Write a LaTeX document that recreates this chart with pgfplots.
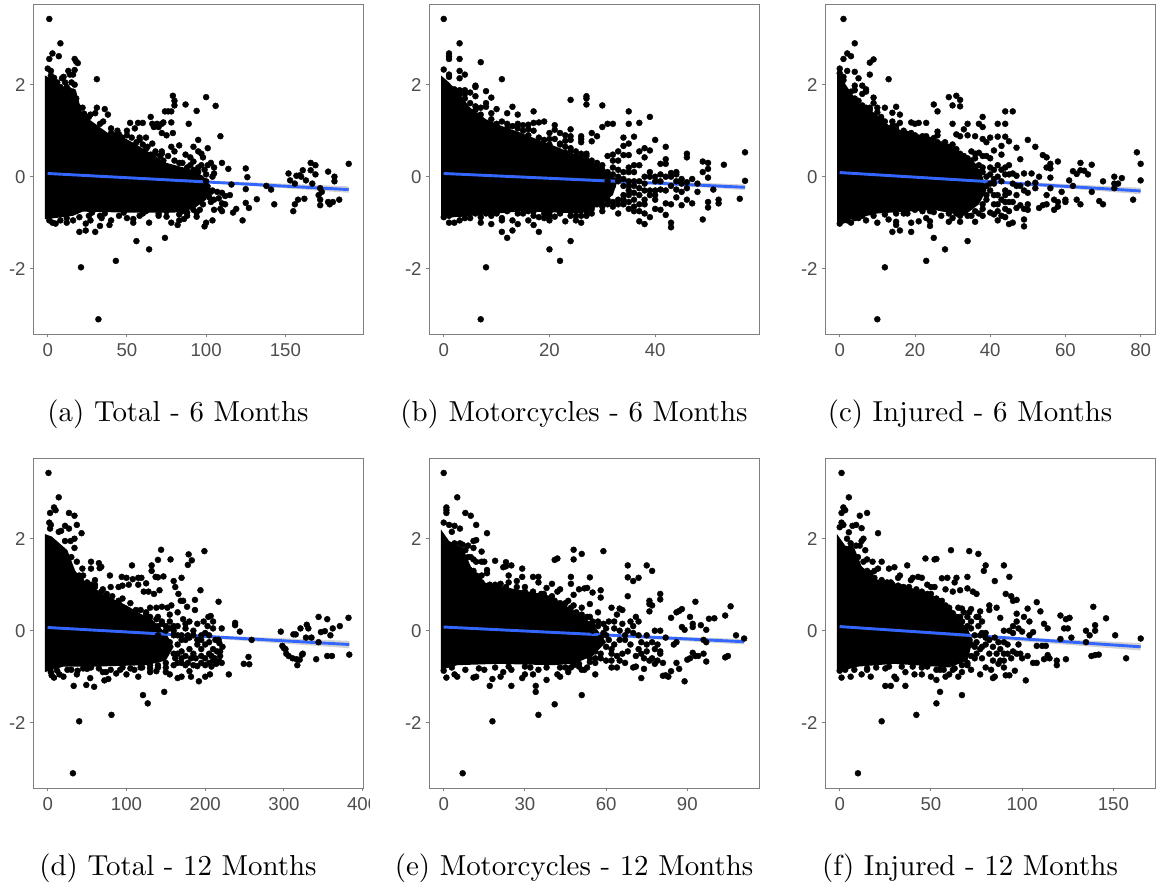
\documentclass[border=0pt]{standalone}
\usepackage{fontspec}
\newfontfamily\tickfont{Liberation Sans}
\usepackage{pgfplots}
\pgfplotsset{compat=1.18}
\definecolor{fitblue}{HTML}{3366FF}
\definecolor{ticktext}{HTML}{4D4D4D}
\definecolor{frame}{HTML}{7F7F7F}
\newcommand\capt[3]{\node[anchor=base,inner sep=0pt,text=black,scale=2.89] at (#1pt,#2pt) {\fontsize{10}{12}\selectfont #3};}
\pgfplotsset{
  panel/.style={
    scale only axis, width=330pt, height=329.3pt, anchor=south west,
    ymin=-3.42, ymax=3.74,
    axis line style={frame,line width=0.9pt},
    tick style={frame,line width=0.9pt},
    major tick length=3.2pt,
    tick align=outside, xtick pos=bottom, ytick pos=left,
    ytick={-2,0,2}, yticklabels={-2,0,2},
    tick label style={font=\tickfont\fontsize{18.6}{20}\selectfont,text=ticktext},
    xticklabel style={yshift=-2.5pt},
    yticklabel style={xshift=-1pt},
    axis on top=false,
  },
  dots/.style={only marks,mark=*,mark size=3pt,black,mark options={draw=black,fill=black}},
  blob/.style={fill=black,draw=none,mark=none,forget plot},
  ribbon/.style={fill=gray,fill opacity=0.35,draw=none,mark=none},
  fit/.style={fitblue,line width=2.9pt,mark=none},
}
\begin{document}
\begin{tikzpicture}[x=1pt,y=1pt]
\useasboundingbox (0,0) rectangle (1159,886);
% (a)
\begin{axis}[panel,at={(33.3pt,552pt)},xmin=-9.1,xmax=199.2,xtick={0,50,100,150},xticklabels={0,50,100,150}]
\addplot[blob] coordinates {(-1.8,-0.92) (-1.8,2.2) (4,2.1) (10,1.95) (14,1.95) (18,1.85) (22,1.35) (30,1.15) (38,0.95) (48,0.85) (56,0.7) (65,0.5) (75,0.3) (88,0.18) (98,0.02) (103,-0.2) (100,-0.5) (92,-0.7) (80,-0.78) (50,-0.78) (22,-0.76) (16,-0.85) (0,-0.92)} -- cycle;
\addplot[dots] coordinates {(1,3.43) (8,2.9) (3,2.68) (7,2.62) (1,2.56) (17,2.56) (18,2.5) (19,2.47) (0,2.35) (2,2.3) (13,2.3) (17,2.32) (16,2.22) (14,2.22) (10,2.17) (9,2.14) (31,2.12) (17,2) (12,1.95) (11,1.85) (16,1.85) (18,1.7) (20,1.5) (79,1.76) (80,1.65) (80,1.55) (87,1.57) (100,1.73) (106,1.54) (94,1.43) (31,1.5) (36,1.47) (30,1.38) (38,1.35) (27,1.35) (23,1.37) (22,1.3) (76,1.42) (78,1.42) (74,1.42) (65,1.3) (89,1.15) (78,1.18) (35,1.2) (57,1.17) (52,1.17) (60,1.17) (66,1.15) (69,1.15) (72,1.15) (73,1.18) (67,1.08) (70,1.08) (79,0.95) (72,0.95) (75,0.9) (109,0.88) (95,0.8) (55,1.05) (50,1.0) (45,0.92) (62,0.85) (58,0.8) (66,0.72) (78,0.65) (83,0.68) (92,0.65) (101,0.62) (80,0.55) (95,0.55) (97,0.5) (87,0.48) (90,0.42) (98,0.42) (65,0.48) (71,0.45) (72,0.55) (92,0.33) (103,0.3) (110,0.3) (97,0.25) (101,0.25) (105,0.2) (95,0.1) (114,0.17) (125,0.18) (99,0.15) (105,0.07) (126,-0.01) (104,0.0) (116,-0.17) (125,-0.27) (132,-0.49) (125,-0.57) (127,-0.68) (143,-0.6) (138,-0.2) (141,-0.28) (115,-0.4) (112,-0.42) (110,-0.35) (107,-0.33) (103,-0.33) (108,-0.47) (105,-0.5) (103,-0.55) (110,-0.58) (112,-0.6) (109,-0.7) (105,-0.72) (110,-0.75) (119,-0.7) (117,-0.78) (123,-0.95) (104,-0.95) (100,-1.0) (99,-1.08) (96,-0.72) (94,-0.78) (94,-0.87) (88,-0.85) (83,-0.95) (82,-1.05) (86,-0.92) (78,-1.0) (75,-0.87) (74,-1.33) (64,-1.58) (56,-1.4) (43,-1.83) (21,-1.97) (32,-3.1) (20,-1.2) (24,-1.17) (30,-1.2) (33,-1.07) (39,-1.05) (24,-1.02) (27,-0.95) (34,-0.9) (40,-0.95) (50,-0.9) (54,-0.92) (54,-1.0) (64,-1.0) (60,-0.8) (70,-0.8) (5,-1.02) (3,-1.0) (12,-1.0) (16,-0.95) (1,-0.95) (152,0.07) (153,-0.08) (156,-0.15) (157,0.02) (159,0.03) (161,0.14) (160,0.0) (163,-0.08) (166,0.14) (166,0.3) (169,0.25) (169,0.05) (167,-0.15) (177,0.11) (181,0.0) (181,-0.1) (172,-0.25) (173,-0.33) (171,-0.4) (172,-0.5) (172,-0.62) (177,-0.55) (178,-0.6) (180,-0.55) (184,-0.5) (162,-0.48) (158,-0.5) (156,-0.6) (155,-0.75) (190,0.28) (25,1.2) (30,1.05) (42,0.9) (47,0.85) (56,0.75) (68,0.5) (73,0.35) (83,0.3) (92,0.15) (100,-0.25) (100,-0.4) (90,-0.6) (85,-0.75) (75,-0.75) (62,-0.75) (36,-0.8) (48,-0.78) (28,-0.78) (14,1.6) (8,1.95) (6,2.05) (40,0.95) (62,0.6) (88,0.2) (76,0.05) (85,0.1) (22,1.5) (26,1.3) (33,1.15) (40,1.05) (44,1.0) (50,0.9) (53,0.85) (58,0.85) (60,0.7) (63,0.65) (68,0.55) (72,0.5) (76,0.45) (80,0.35) (85,0.3) (90,0.25) (95,0.2) (100,0.05) (100,-0.1) (104,-0.3) (102,-0.45) (98,-0.6) (92,-0.72) (88,-0.78) (83,-0.82) (70,-0.85) (58,-0.85) (45,-0.85) (33,-0.85) (26,-0.85) (20,-0.88) (12,-0.9) (8,-0.95) (2,2.2) (4,2.15) (11,2.05) (15,2.05)};
\addplot[ribbon] coordinates {(0,0.09) (100,-0.08) (190,-0.21) (190,-0.35) (100,-0.13) (0,0.05)} -- cycle;
\addplot[fit] coordinates {(0,0.07) (190,-0.28)};
\end{axis}
% (b)
\begin{axis}[panel,at={(429.3pt,552pt)},xmin=-2.73,xmax=59.7,xtick={0,20,40},xticklabels={0,20,40}]
\addplot[blob] coordinates {(-0.5,-0.9) (-0.5,2.2) (1,2.05) (3,1.8) (5,1.5) (8,1.25) (11,1.1) (14,0.98) (18,0.8) (22,0.62) (26,0.42) (29,0.25) (31,0.05) (33,-0.05) (32,-0.4) (29,-0.65) (26,-0.8) (15,-0.75) (0,-0.9)} -- cycle;
\addplot[dots] coordinates {(0,3.43) (3,2.9) (1,2.68) (1,2.62) (1,2.56) (3,2.56) (7,2.49) (0,2.33) (3,2.3) (1,2.22) (4,2.22) (1,2.17) (3,2.14) (11,2.12) (6,1.98) (6,1.95) (3,1.88) (4,1.88) (5,1.83) (8,1.86) (3,1.8) (4,1.8) (2,1.8) (6,1.75) (9,1.72) (8,1.6) (8,1.52) (7,1.5) (6,1.53) (4,1.5) (10,1.47) (13,1.52) (12,1.38) (14,1.35) (17,1.42) (9,1.38) (5,1.35) (11,1.2) (12,1.15) (14,1.15) (15,1.12) (16,1.13) (17,1.17) (18,1.18) (19,1.2) (14,1.05) (16,1.03) (17,1.0) (21,1.12) (21,1.02) (20,0.95) (22,0.95) (23,0.9) (24,1.03) (24,0.88) (24,0.8) (23,0.78) (21,0.82) (20,0.82) (22,0.7) (25,0.55) (24,0.62) (23,0.52) (26,0.88) (26,0.82) (26,0.75) (28,0.95) (29,0.88) (28,0.77) (24,1.67) (27,1.75) (27,1.7) (27,1.57) (30,1.55) (35,1.42) (39,1.3) (30,1.08) (31,1.15) (32,1.15) (35,1.15) (37,1.17) (34,0.85) (36,0.87) (35,0.72) (34,0.67) (40,0.8) (42,0.65) (38,0.62) (39,0.57) (37,0.55) (38,0.42) (33,0.55) (32,0.48) (31,0.45) (34,0.47) (35,0.47) (46,0.5) (46,0.42) (42,0.38) (42,0.28) (41,0.28) (43,0.08) (44,0.1) (44,0.05) (49,0.33) (50,0.3) (50,0.17) (49,0.1) (50,-0.02) (53,0.26) (57,0.53) (57,-0.09) (56,-0.48) (52,-0.5) (52,-0.58) (50,-0.55) (50,-0.67) (49,-0.93) (47,-0.58) (46,-0.5) (45,-0.62) (43,-0.6) (43,-1) (43,-1.1) (42,-0.83) (42,-0.58) (41,-0.72) (40,-0.5) (40,-0.7) (39,-0.88) (38,-1.03) (37,-0.97) (37,-0.6) (36,-0.75) (38,-0.8) (38,-0.6) (39,-0.3) (39,-0.4) (38,-0.3) (37,-0.4) (36,-0.5) (35,-0.55) (34,-0.6) (34,-0.4) (33,-0.6) (33,-0.8) (32,-0.65) (31,-0.5) (30,-0.75) (30,-0.6) (47,-0.05) (45,-0.05) (46,-0.12) (46,-0.25) (45,-0.33) (44,-0.28) (48,-0.15) (48,-0.33) (51,-0.28) (40,0) (41,-0.28) (42,0) (38,0) (39,0) (35,0.1) (33,0.15) (34,0.1) (32,0.2) (31,0.1) (30,0.25) (29,0.3) (37,0.25) (36,0.25) (36,0.1) (43,0) (27,0.5) (27,0.45) (28,0.35) (26,0.4) (25,0.38) (26,-1) (25,-0.95) (27,-0.85) (28,-0.8) (24,-0.85) (23,-0.97) (21,-0.87) (20,-0.95) (20,-0.78) (19,-0.9) (18,-0.88) (18,-1.2) (17,-0.75) (17,-0.85) (17,-1.05) (16,-0.95) (14,-1.03) (13,-0.95) (13,-1.17) (12,-1.33) (11,-1.2) (11,-0.9) (11,-0.95) (9,-1.03) (9,-0.85) (7,-1) (7,-0.88) (5,-0.9) (4,-0.9) (3,-0.95) (2,-1.0) (1,-1.0) (0,-0.88) (20,-1.58) (24,-1.4) (22,-1.83) (8,-1.97) (7,-3.1) (29,0.1) (31,-0.1) (32,-0.2) (33,-0.1) (34,-0.2) (35,-0.3) (36,-0.1) (37,-0.1) (31,-0.3) (29,-0.6) (28,-0.55) (28,-0.7) (26,-0.85) (2,1.9) (4,1.7) (5,1.6) (6,1.45) (7,1.35) (9,1.25) (10,1.15) (12,1.05) (13,1.1) (15,1.0) (16,0.9) (18,0.85) (19,0.8) (20,0.7) (22,0.72) (23,0.65) (24,0.55) (25,0.45) (26,0.5) (27,0.35) (28,0.25) (29,0.2) (30,0.15) (31,0) (32,0.05) (33,0) (34,-0.05) (35,-0.1) (36,-0.2) (37,-0.25) (36,-0.35) (35,-0.4) (33,-0.5) (32,-0.55) (31,-0.6) (30,-0.5) (27,-0.75) (28,-0.6) (26,-0.7) (24,-0.75) (22,-0.8) (19,-0.8) (16,-0.75) (14,-0.8) (12,-0.75) (10,-0.8) (8,-0.8) (6,-0.8) (4,-0.8) (3,-0.82) (1,-0.85) (15,-0.8) (20,-0.85) (25,-0.85) (38,-0.15) (40,-0.1) (41,-0.1) (42,-0.3) (43,-0.2) (40,-0.3) (35,0.2) (33,0.35) (32,0.35) (39,0.1) (41,0.05) (44,-0.1) (45,-0.15) (44,-0.45) (38,-0.5) (37,-0.75) (40,-0.4) (36,-0.65) (35,-0.7) (34,-0.5) (35,-0.2) (30,-0.65)};
\addplot[ribbon] coordinates {(0,0.09) (30,-0.05) (57,-0.17) (57,-0.29) (30,-0.1) (0,0.05)} -- cycle;
\addplot[fit] coordinates {(0,0.07) (57,-0.23)};
\end{axis}
% (c)
\begin{axis}[panel,at={(825.3pt,552pt)},xmin=-3.83,xmax=83.9,xtick={0,20,40,60,80},xticklabels={0,20,40,60,80}]
\addplot[blob] coordinates {(-0.7,-1.0) (-0.7,2.3) (2,1.95) (5,1.6) (9,1.4) (13,1.12) (18,0.95) (25,0.78) (30,0.68) (33,0.45) (36,0.3) (38,0.0) (39,-0.3) (37,-0.6) (33,-0.85) (25,-0.72) (10,-0.8)} -- cycle;
\addplot[dots] coordinates {(1,3.43) (4,2.9) (2,2.68) (3,2.62) (1,2.56) (8,2.48) (9,2.55) (0,2.35) (2,2.3) (4,2.28) (8,2.22) (0,2.25) (1,2.17) (5,2.14) (13,2.12) (4,1.98) (6,1.98) (7,1.9) (4,1.88) (6,1.8) (7,1.85) (5,1.65) (9,1.72) (9,1.6) (10,1.5) (7,1.5) (8,1.45) (12,1.5) (15,1.52) (14,1.39) (16,1.35) (14,1.2) (11,1.25) (12,1.1) (16,1.17) (19,1.18) (20,1.15) (21,1.17) (23,1.17) (15,1.03) (17,0.95) (18,0.93) (20,0.9) (23,0.88) (25,0.84) (26,0.98) (26,0.9) (25,1.57) (26,1.42) (29,1.73) (31,1.76) (32,1.67) (30,1.55) (32,1.53) (30,1.15) (33,1.03) (34,1.15) (38,1.3) (37,1.15) (38,1.08) (42,1.15) (44,1.15) (44,1.42) (46,1.42) (31,0.92) (32,0.88) (34,0.9) (36,0.88) (38,0.82) (39,0.75) (40,0.85) (42,0.87) (44,0.87) (45,0.77) (50,0.8) (52,0.65) (47,0.63) (41,0.57) (43,0.67) (43,0.48) (48,0.38) (54,0.47) (55,0.42) (58,0.33) (56,0.28) (55,0.2) (56,0.18) (45,0.25) (42,0.25) (44,0.2) (40,0.4) (39,0.45) (37,0.52) (35,0.55) (36,0.5) (38,0.45) (37,0.25) (40,0.2) (41,0.15) (46,0.07) (45,0.05) (47,0.02) (49,0.07) (51,0.07) (53,0) (56,-0.02) (52,-0.13) (61,-0.08) (62,0.12) (63,0.06) (64,0.14) (64,0.3) (65,0.13) (66,0.05) (67,0.26) (73,0) (75,-0.03) (74,-0.15) (73,-0.15) (70,-0.1) (79,0.53) (80,0.28) (80,-0.08) (78,-0.5) (73,-0.25) (70,-0.6) (69,-0.53) (67,-0.33) (64,-0.6) (63,-0.5) (59,-0.33) (60,-0.5) (60,-0.55) (58,-0.55) (57,-0.5) (57,-0.72) (58,-0.65) (56,-0.25) (55,-0.4) (55,-0.6) (54,-0.62) (53,-0.68) (52,-0.25) (50,-0.35) (49,-0.3) (50,-0.6) (50,-0.72) (49,-0.7) (49,-0.93) (49,-1.08) (48,-0.62) (47,-0.68) (46,-0.55) (45,-0.55) (46,-1.0) (45,-1.03) (44,-0.7) (44,-0.88) (43,-0.85) (42,-0.95) (42,-0.75) (41,-0.82) (40,-0.78) (38,-0.85) (38,-0.6) (36,-0.98) (34,-1.4) (28,-1.58) (25,-1.33) (23,-1.83) (12,-1.97) (10,-3.1) (24,-1.07) (24,-0.97) (23,-0.9) (21,-0.97) (19,-1) (19,-1.2) (16,-1.17) (15,-1.05) (14,-1.2) (15,-0.98) (13,-0.93) (10,-1) (3,-1) (0,-1.02) (2,-0.95) (5,-0.9) (7,-0.95) (18,-0.8) (25,-0.77) (29,-0.98) (32,-0.98) (30,-0.9) (44,-0.3) (44,-0.4) (42,-0.4) (39,-0.4) (41,-0.4) (42,-0.6) (45,-0.35) (62,-0.2) (47,-0.2) (50,-0.15) (38,0.1) (40,0.05) (42,0) (39,-0.2) (41,-0.15) (35,-0.85) (32,-0.85) (1,2.1) (3,1.85) (4,1.7) (6,1.55) (7,1.45) (8,1.5) (10,1.4) (11,1.3) (12,1.2) (14,1.1) (15,1.1) (17,1) (19,0.95) (21,0.85) (22,0.88) (24,0.8) (26,0.75) (27,0.7) (28,0.75) (29,0.65) (30,0.7) (31,0.6) (32,0.5) (33,0.45) (34,0.4) (35,0.35) (36,0.4) (37,0.1) (38,0.2) (39,0) (40,-0.15) (40,-0.3) (41,-0.05) (43,-0.1) (39,-0.5) (38,-0.7) (36,-0.75) (37,-0.8) (34,-0.85) (31,-0.8) (29,-0.8) (27,-0.85) (24,-0.75) (22,-0.75) (20,-0.72) (17,-0.8) (15,-0.8) (12,-0.82) (9,-0.85) (6,-0.85) (4,-0.9) (1,-0.95) (20,-0.65) (44,0.05) (43,0.15) (46,-0.15) (47,-0.4) (43,-0.5) (45,-0.75) (48,-0.2) (44,-0.55) (41,-0.6)};
\addplot[ribbon] coordinates {(0,0.11) (40,-0.08) (80,-0.24) (80,-0.38) (40,-0.13) (0,0.07)} -- cycle;
\addplot[fit] coordinates {(0,0.09) (80,-0.31)};
\end{axis}
% (d)
\begin{axis}[panel,at={(33.3pt,98pt)},xmin=-18.3,xmax=400.8,xtick={0,100,200,300,400},xticklabels={0,100,200,300,400}]
\addplot[blob] coordinates {(-3.5,-0.9) (-3.5,2.1) (5,2.05) (15,1.9) (25,1.75) (35,1.3) (45,1.1) (70,0.8) (100,0.55) (120,0.35) (135,0.2) (150,-0.05) (160,-0.35) (150,-0.65) (125,-0.75) (60,-0.78) (20,-0.78)} -- cycle;
\addplot[dots] coordinates {(1,3.43) (14,2.9) (8,2.68) (10,2.62) (3,2.56) (27,2.56) (34,2.5) (2,2.35) (4,2.3) (37,2.3) (22,2.28) (27,2.22) (14,2.15) (17,2.17) (3,2.22) (43,2.12) (34,2) (29,1.95) (22,1.95) (34,1.8) (37,1.5) (55,1.5) (65,1.47) (68,1.39) (44,1.35) (55,1.35) (66,1.36) (107,1.42) (132,1.42) (132,1.3) (144,1.76) (140,1.54) (156,1.55) (179,1.66) (183,1.53) (178,1.43) (199,1.73) (137,1.17) (140,1.16) (147,1.18) (170,1.15) (160,1.08) (162,0.95) (94,1.17) (100,1.15) (108,1.12) (115,1.15) (119,1.15) (125,1.03) (79,1.2) (60,1.1) (60,1.0) (70,0.9) (80,0.95) (90,0.95) (95,0.98) (103,1.0) (115,1.0) (122,0.85) (128,0.85) (135,0.8) (142,0.88) (166,0.8) (169,0.65) (172,0.65) (187,0.67) (194,0.88) (217,0.63) (177,0.52) (157,0.55) (152,0.5) (145,0.52) (138,0.5) (130,0.5) (125,0.35) (187,0.45) (140,0.3) (155,0.35) (165,0.4) (180,0.2) (190,0.15) (198,0.2) (204,0.3) (207,0.32) (210,0.2) (203,0.1) (210,0.05) (221,0.05) (238,0.17) (238,0.12) (244,-0.02) (200,-0.05) (259,-0.2) (213,-0.2) (217,-0.2) (222,-0.35) (218,-0.27) (219,-0.45) (219,-0.55) (218,-0.67) (221,-0.7) (214,-0.72) (208,-0.78) (210,-0.65) (205,-0.5) (208,-0.55) (200,-0.6) (195,-0.7) (190,-0.77) (182,-0.6) (178,-0.7) (180,-0.88) (182,-1) (170,-1) (165,-1.03) (155,-0.95) (150,-0.9) (192,-1.1) (200,-1) (206,-0.95) (230,-0.95) (249,-0.72) (256,-0.73) (255,-0.57) (148,-1.33) (127,-1.58) (121,-1.4) (81,-1.83) (40,-1.97) (32,-3.1) (33,-1.2) (49,-1.18) (54,-1.03) (59,-1.22) (72,-1.08) (77,-1.05) (74,-0.9) (87,-0.93) (100,-0.95) (115,-1) (110,-0.85) (130,-0.9) (138,-0.88) (37,-0.95) (38,-0.87) (50,-0.83) (5,-0.97) (8,-1.02) (20,-1) (4,-0.9) (15,-0.95) (296,-0.02) (298,-0.33) (300,-0.38) (302,-0.4) (303,-0.5) (306,-0.55) (311,-0.6) (316,-0.62) (312,-0.08) (315,-0.08) (321,0.05) (329,0.13) (331,0.05) (328,-0.15) (335,-0.15) (344,0.3) (344,-0.25) (347,-0.03) (352,-0.01) (355,0.25) (359,-0.1) (362,0.05) (371,0.1) (382,0.28) (383,-0.52) (355,-0.55) (361,-0.55) (341,-0.62) (324,-0.5) (320,-0.63) (317,-0.75) (323,-0.52) (140,-0.1) (150,0) (160,0.1) (170,-0.1) (145,-0.2) (155,-0.25) (165,-0.3) (175,-0.2) (185,-0.1) (190,-0.3) (195,-0.4) (150,-0.5) (160,-0.5) (170,-0.45) (180,-0.4) (185,-0.5) (150,-0.7) (160,-0.75) (170,-0.7) (143,-0.6) (175,-0.55) (165,0.1) (175,0.05) (185,0) (195,-0.1) (205,-0.25) (210,-0.4) (200,-0.3) (145,0.15) (155,0.2) (172,0.25) (160,-0.1) (130,-0.75) (120,-0.8) (95,-0.8) (140,-0.8) (145,-0.45) (135,-0.5) (140,0.1) (125,0.1) (110,0.3) (90,0.6) (75,0.7) (50,1) (42,1.1) (45,1.2) (130,0.2) (30,1.6) (40,1.2) (50,1.05) (55,1.0) (60,0.95) (68,0.85) (75,0.8) (82,0.75) (90,0.65) (95,0.7) (105,0.6) (112,0.45) (118,0.45) (125,0.4) (130,0.3) (138,0.25) (145,0.2) (150,0.1) (155,0.05) (160,0) (165,-0.1) (170,-0.2) (150,-0.8) (140,-0.75) (130,-0.82) (118,-0.8) (105,-0.82) (92,-0.85) (80,-0.85) (65,-0.82) (55,-0.8) (45,-0.82) (30,-0.85) (25,-0.85) (12,-0.87) (70,-0.9) (162,-0.6) (165,-0.7) (170,-0.6) (175,-0.75) (185,-0.75) (188,-0.6) (195,-0.55) (180,-0.15) (190,-0.2) (175,0.15) (178,-0.1) (165,-0.5) (195,-0.2) (205,-0.1) (215,-0.45) (212,-0.6) (205,-0.7) (200,-0.75)};
\addplot[ribbon] coordinates {(0,0.09) (190,-0.09) (383,-0.22) (383,-0.38) (190,-0.15) (0,0.05)} -- cycle;
\addplot[fit] coordinates {(0,0.07) (383,-0.3)};
\end{axis}
\fill[white] (370,60) rectangle (396,96);
% (e)
\begin{axis}[panel,at={(429.3pt,98pt)},xmin=-5.32,xmax=116.6,xtick={0,30,60,90},xticklabels={0,30,60,90}]
\addplot[blob] coordinates {(-1,-0.85) (-1,2.2) (2,1.95) (7,1.8) (10,1.4) (15,1.05) (25,0.92) (38,0.78) (45,0.55) (52,0.3) (57,0) (60,-0.25) (55,-0.55) (48,-0.72) (40,-0.75) (20,-0.72) (5,-0.75)} -- cycle;
\addplot[dots] coordinates {(0,3.43) (5,2.9) (1,2.68) (1,2.62) (1,2.56) (8,2.56) (10,2.5) (0,2.35) (2,2.3) (4,2.28) (6,2.22) (12,2.3) (3,2.15) (16,2.12) (12,1.97) (11,1.95) (6,1.9) (7,1.87) (9,1.85) (11,1.8) (14,1.72) (10,1.6) (11,1.55) (12,1.5) (14,1.5) (15,1.5) (19,1.52) (23,1.49) (25,1.42) (22,1.38) (23,1.4) (29,1.35) (16,1.32) (16,1.25) (10,1.28) (12,1.2) (14,1.2) (24,1.2) (29,1.17) (33,1.17) (35,1.17) (35,1.05) (27,1.08) (24,1.05) (19,1) (21,1.02) (30,0.95) (38,0.93) (40,1.02) (43,0.9) (42,0.85) (33,0.78) (37,0.8) (40,0.75) (47,1.17) (47,1.02) (41,1.54) (42,1.57) (48,1.76) (48,1.55) (51,1.67) (59,1.73) (54,1.16) (50,0.9) (52,0.92) (53,0.93) (55,0.83) (58,0.88) (58,0.72) (48,0.78) (46,0.65) (48,0.55) (51,0.5) (54,0.58) (57,0.4) (62,0.5) (65,0.48) (66,0.45) (64,0.35) (68,1.42) (68,1.16) (70,1.08) (72,1.15) (75,1.42) (77,1.3) (68,0.75) (80,0.8) (80,0.68) (76,0.65) (76,0.58) (77,0.55) (76,0.42) (71,0.3) (72,0.2) (69,0.2) (63,0.2) (61,0.2) (59,0.15) (57,0.2) (55,0.1) (54,0.3) (84,0.28) (86,0.4) (87,0.43) (88,0.47) (93,0.63) (91,0.3) (92,0.15) (92,0.08) (88,0.08) (89,0.02) (95,0.12) (97,0.02) (98,0.26) (100,0.27) (104,0.33) (106,0.53) (108,-0.1) (111,-0.17) (105,-0.55) (104,-0.58) (97,-0.67) (96,-0.5) (94,-0.55) (93,-0.55) (92,-0.48) (91,-0.6) (90,-0.63) (89,-1.1) (87,-0.83) (86,-0.7) (84,-0.88) (83,-1) (82,-0.97) (81,-0.98) (81,-0.7) (80,-0.5) (79,-0.65) (78,-0.72) (74,-0.83) (73,-1.03) (71,-0.78) (70,-0.8) (67,-0.7) (64,-0.8) (62,-0.8) (56,-0.95) (51,-0.85) (52,-0.85) (51,-1.4) (41,-1.6) (35,-1.83) (34,-1.2) (34,-1.33) (25,-1.2) (18,-1.97) (7,-3.1) (17,-1.2) (18,-1.05) (30,-0.95) (32,-0.8) (29,-1.03) (33,-0.95) (38,-1.07) (42,-0.95) (43,-1) (46,-0.9) (22,-0.9) (21,-1) (12,-1) (11,-1.02) (5,-1) (1,-1.02) (0,-0.87) (4,-0.95) (65,0) (68,0) (70,-0.05) (72,-0.1) (75,-0.1) (78,0) (80,0) (67,-0.2) (69,-0.3) (72,-0.4) (73,-0.5) (75,-0.45) (77,-0.25) (79,-0.3) (80,-0.45) (74,-0.6) (76,-0.65) (60,-0.35) (62,-0.5) (64,-0.55) (66,-0.5) (58,-0.6) (60,-0.65) (56,-0.3) (58,-0.15) (55,0) (86,-0.25) (85,-0.3) (82,-0.15) (96,-0.2) (97,-0.25) (60,-0.1) (50,0.3) (53,0.15) (56,-0.45) (54,-0.6) (50,-0.72) (45,-0.8) (35,-0.85) (25,-0.85) (15,-0.85) (8,-0.85) (4,1.9) (8,1.75) (9,1.6) (11,1.3) (13,1.15) (14,1.05) (17,1) (20,0.95) (23,0.95) (27,0.95) (30,0.85) (33,0.85) (36,0.8) (39,0.7) (41,0.65) (43,0.6) (45,0.6) (47,0.5) (49,0.4) (51,0.35) (53,0.3) (55,0.2) (57,0.1) (59,-0.05) (61,-0.2) (63,-0.3) (62,-0.4) (58,-0.5) (56,-0.6) (54,-0.68) (50,-0.78) (47,-0.8) (43,-0.8) (38,-0.8) (30,-0.78) (24,-0.78) (19,-0.8) (13,-0.82) (3,-0.8) (48,-0.75) (65,-0.2) (67,-0.1) (63,0.05) (60,0.05) (66,0.15) (70,0.1) (68,-0.45) (71,-0.55) (75,-0.3) (73,-0.25) (78,-0.4) (77,-0.6) (65,-0.65) (62,-0.65) (56,-0.7) (53,-0.8)};
\addplot[ribbon] coordinates {(0,0.1) (55,-0.07) (111,-0.18) (111,-0.3) (55,-0.11) (0,0.06)} -- cycle;
\addplot[fit] coordinates {(0,0.08) (111,-0.24)};
\end{axis}
% (f)
\begin{axis}[panel,at={(825.3pt,98pt)},xmin=-7.9,xmax=173,xtick={0,50,100,150},xticklabels={0,50,100,150}]
\addplot[blob] coordinates {(-1.5,-0.9) (-1.5,2.1) (3,1.85) (8,1.8) (12,1.4) (20,1.12) (40,0.92) (55,0.7) (60,0.4) (65,0.25) (70,0.05) (73,-0.2) (70,-0.65) (60,-0.8) (30,-0.72) (10,-0.78)} -- cycle;
\addplot[dots] coordinates {(1,3.43) (5,2.9) (2,2.68) (3,2.62) (1,2.56) (15,2.56) (11,2.5) (1,2.35) (2,2.3) (7,2.28) (9,2.3) (12,2.23) (0,2.25) (5,2.14) (21,2.12) (13,2) (12,1.95) (6,1.9) (9,1.85) (11,1.85) (14,1.75) (15,1.55) (18,1.5) (23,1.5) (21,1.35) (19,1.3) (27,1.35) (30,1.38) (37,1.42) (33,1.2) (32,1.15) (47,1.57) (52,1.55) (53,1.56) (61,1.75) (71,1.73) (76,1.67) (80,1.42) (79,1.3) (90,1.42) (93,1.17) (85,1.08) (70,1.17) (56,1.14) (59,1.15) (64,1.15) (63,1.05) (39,1.1) (40,1.15) (43,1.17) (45,1.15) (25,1) (28,1.05) (33,0.95) (48,1) (50,0.95) (52,0.95) (58,0.9) (62,0.85) (66,0.88) (70,0.92) (73,0.85) (75,0.8) (91,0.8) (94,0.75) (95,0.65) (97,0.67) (108,0.62) (103,0.48) (110,0.42) (82,0.55) (86,0.5) (82,0.45) (77,0.42) (72,0.47) (67,0.48) (88,0.28) (97,0.37) (101,0.3) (104,0.2) (97,0.2) (112,0.15) (114,0.05) (121,0.33) (123,0.05) (125,0.05) (124,0.25) (126,0.28) (127,-0.15) (121,-0.18) (135,0) (137,-0.1) (139,0.52) (140,0.12) (140,0) (146,0.27) (151,-0.1) (165,-0.17) (157,-0.6) (142,-0.52) (140,-0.53) (138,-0.55) (135,-0.25) (124,-0.62) (119,-0.65) (119,-0.75) (114,-0.53) (115,-0.6) (112,-0.62) (113,-0.33) (111,-0.33) (108,-0.33) (108,-0.7) (106,-0.7) (103,-0.55) (102,-1.08) (100,-0.6) (99,-0.5) (98,-0.3) (97,-0.5) (96,-0.87) (93,-0.97) (91,-0.97) (90,-0.8) (87,-0.72) (85,-1) (84,-1.03) (83,-0.85) (80,-0.8) (77,-0.95) (72,-0.85) (67,-1.4) (55,-1.33) (53,-1.58) (53,-1.07) (42,-1.83) (36,-1.2) (28,-1.2) (25,-1.2) (23,-1.97) (10,-3.1) (30,-1) (31,-1.05) (17,-1) (12,-0.95) (6,-1) (1,-1.02) (0,-0.87) (41,-0.95) (45,-0.95) (36,-0.9) (50,-1) (60,-0.95) (58,-1) (65,-1) (67,-0.9) (80,-0.3) (85,-0.15) (90,0) (93,0) (95,-0.05) (88,-0.4) (92,-0.5) (94,-0.6) (82,-0.5) (84,-0.65) (78,-0.6) (75,-0.5) (78,-0.35) (86,-0.5) (88,-0.65) (92,-0.3) (80,-0.05) (76,0.1) (72,0.2) (75,0.3) (70,0.3) (68,0.4) (65,0.5) (95,0.1) (98,0.05) (100,-0.02) (104,-0.1) (106,-0.03) (72,-0.3) (74,-0.6) (70,-0.75) (62,-0.85) (55,-0.85) (45,-0.8) (25,-0.82) (15,-0.85) (60,0.5) (67,0.2) (4,2) (6,1.8) (10,1.6) (13,1.5) (15,1.3) (17,1.25) (19,1.15) (23,1.1) (26,1.05) (29,1) (32,0.98) (35,0.95) (38,0.95) (42,0.9) (45,0.85) (48,0.8) (50,0.8) (53,0.7) (56,0.65) (58,0.55) (60,0.45) (62,0.38) (64,0.3) (67,0.2) (70,0.1) (72,0.05) (74,-0.1) (75,-0.25) (72,-0.55) (70,-0.7) (67,-0.75) (63,-0.82) (57,-0.85) (53,-0.85) (48,-0.78) (40,-0.78) (34,-0.78) (27,-0.78) (20,-0.8) (15,-0.82) (8,-0.85) (3,-0.85) (77,-0.1) (80,-0.15) (77,-0.4) (74,-0.35) (82,-0.2) (84,-0.35) (78,-0.05) (78,0.2) (76,0.3) (71,0.4) (66,0.3) (90,-0.25) (90,-0.5) (95,-0.45) (87,-0.25) (90,-0.65)};
\addplot[ribbon] coordinates {(0,0.11) (80,-0.11) (165,-0.27) (165,-0.43) (80,-0.17) (0,0.07)} -- cycle;
\addplot[fit] coordinates {(0,0.09) (165,-0.35)};
\end{axis}
\capt{178}{464}{(a) Total - 6 Months}
\capt{574}{464}{(b) Motorcycles - 6 Months}
\capt{970}{464}{(c) Injured - 6 Months}
\capt{178}{10}{(d) Total - 12 Months}
\capt{574}{10}{(e) Motorcycles - 12 Months}
\capt{970}{10}{(f) Injured - 12 Months}
\end{tikzpicture}
\end{document}
